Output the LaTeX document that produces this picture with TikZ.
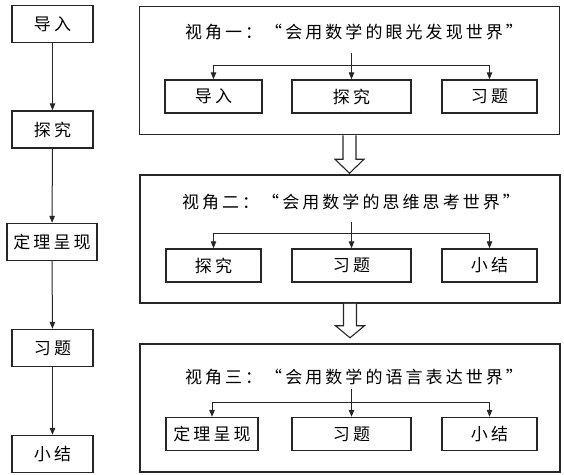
\documentclass[tikz,border=0pt]{standalone}
\usepackage{fontspec}
\setmainfont{Noto Sans CJK SC}[LetterSpace=18]
\usetikzlibrary{arrows.meta}
\begin{document}
\begin{tikzpicture}[x=1pt, y=-1pt, font=\fontsize{17}{20}\selectfont,
	box/.style={draw=black!85, line width=1.4pt, inner sep=0pt, minimum width=81pt, minimum height=37pt},
	subbox/.style={draw=black!85, line width=1.4pt, inner sep=0pt, minimum height=33pt},
	panel/.style={draw=black!85, line width=1.5pt, inner sep=0pt, minimum width=420pt, minimum height=128pt},
	link/.style={draw=black!85, line width=1pt, -{Triangle[length=7pt, width=5.5pt]}},
	hollow/.style={draw=black!85, line width=1.1pt, fill=white}]
	\useasboundingbox (0,0) rectangle (564,474);
	% left column
	\node[box] (L1) at (52.5,24) {导入};
	\node[box] (L2) at (52.5,129.5) {探究};
	\node[box, minimum width=90pt] (L3) at (52,242) {定理呈现};
	\node[box] (L4) at (52.5,348) {习题};
	\node[box] (L5) at (52.5,454) {小结};
	\draw[link] (L1) -- (L2);
	\draw[link] (L2) -- (L3);
	\draw[link] (L3) -- (L4);
	\draw[link] (L4) -- (L5);
	% panels
	\node[panel] (P1) at (349.5,70.5) {};
	\node[panel] (P2) at (350,239) {};
	\node[panel] (P3) at (350,408) {};
	\node (T1) at (354,32) {视角一：“会用数学的眼光发现世界”};
	\node (T2) at (351,202) {视角二：“会用数学的思维思考世界”};
	\node (T3) at (354,377) {视角三：“会用数学的语言表达世界”};
	% panel 1
	\node[subbox, minimum width=97pt] (A1) at (213.5,96.5) {导入};
	\node[subbox, minimum width=119pt] (A2) at (351.5,96.5) {探究};
	\node[subbox, minimum width=95pt] (A3) at (489.5,96.5) {习题};
	\coordinate (s1) at (351.5,53);
	\coordinate (h1) at (351.5,65);
	\draw[link] (s1) -- (A2.north);
	\draw[link] (h1 -| A3.north) -- (h1 -| A1.north) -- (A1.north);
	\draw[link] (h1 -| A3.north) -- (A3.north);
	% panel 2
	\node[subbox, minimum width=95pt] (B1) at (213.5,265.5) {探究};
	\node[subbox, minimum width=119pt] (B2) at (351.5,265.5) {习题};
	\node[subbox, minimum width=95pt] (B3) at (489.5,265.5) {小结};
	\coordinate (s2) at (351.5,222);
	\coordinate (h2) at (351.5,233);
	\draw[link] (s2) -- (B2.north);
	\draw[link] (h2 -| B3.north) -- (h2 -| B1.north) -- (B1.north);
	\draw[link] (h2 -| B3.north) -- (B3.north);
	% panel 3
	\node[subbox, minimum width=92pt] (C1) at (212,434) {定理呈现};
	\node[subbox, minimum width=119pt] (C2) at (351.5,434) {习题};
	\node[subbox, minimum width=95pt] (C3) at (489.5,434) {小结};
	\coordinate (s3) at (351.5,389);
	\coordinate (h3) at (351.5,402);
	\draw[link] (s3) -- (C2.north);
	\draw[link] (h3 -| C3.north) -- (h3 -| C1.north) -- (C1.north);
	\draw[link] (h3 -| C3.north) -- (C3.north);
	% hollow arrows between panels
	\draw[hollow, shift={(P1.south)}] (-6.5,0) -- (-6.5,24) -- (-14.5,24) -- (0,38) -- (14.5,24) -- (6.5,24) -- (6.5,0);
	\draw[hollow, shift={(P2.south)}] (-6.5,0) -- (-6.5,22) -- (-14.5,22) -- (0,34) -- (14.5,22) -- (6.5,22) -- (6.5,0);
\end{tikzpicture}
\end{document}
